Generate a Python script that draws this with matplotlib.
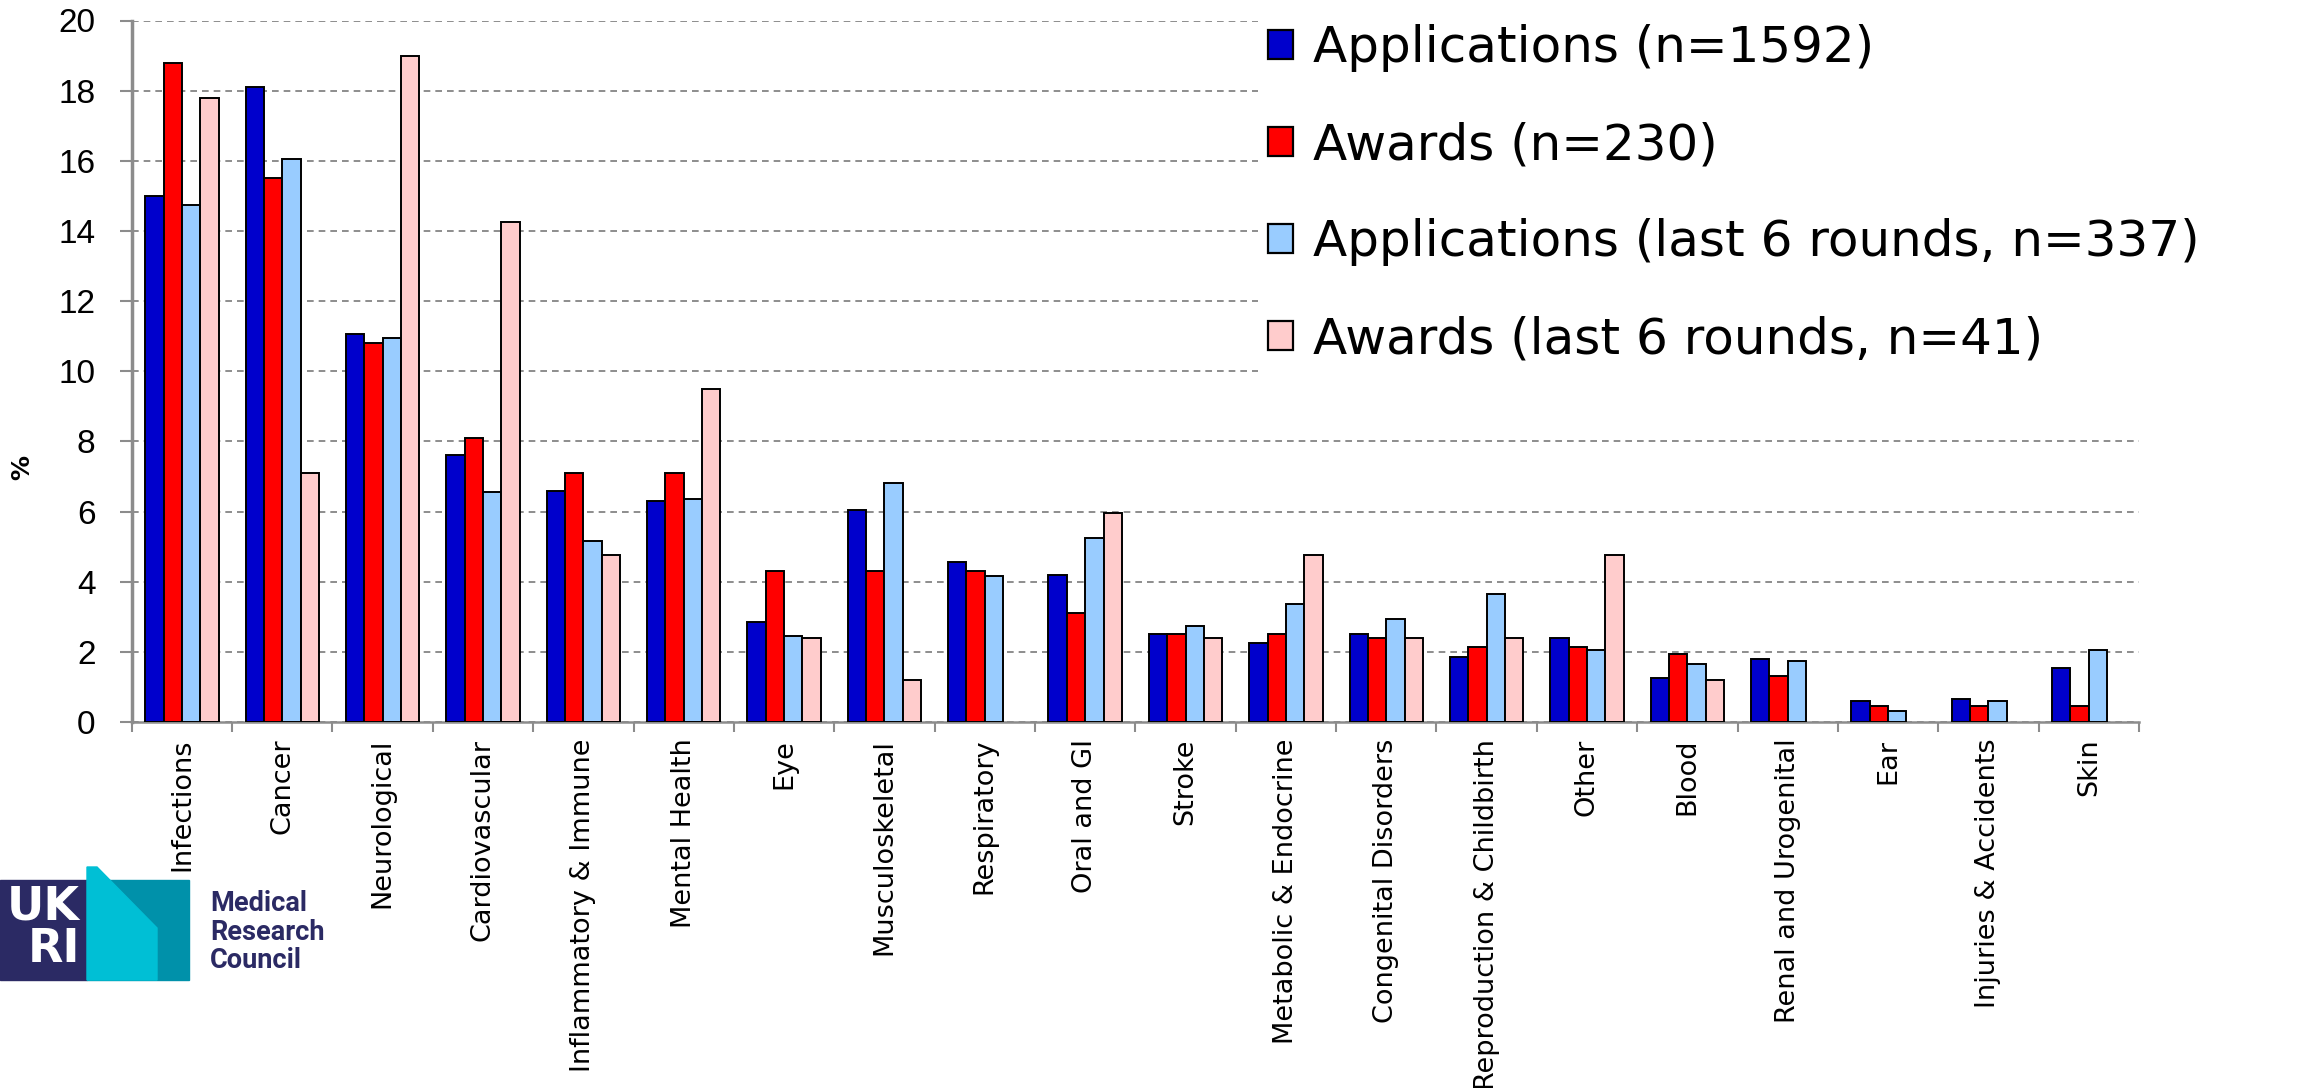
import numpy as np
import matplotlib
matplotlib.use("Agg")
import matplotlib.pyplot as plt
from matplotlib.patches import Patch, Polygon, Rectangle

# Share of applications and awards by health category (%)
categories = ['Infections', 'Cancer', 'Neurological', 'Cardiovascular',
              'Inflammatory & Immune', 'Mental Health', 'Eye', 'Musculoskeletal',
              'Respiratory', 'Oral and GI', 'Stroke', 'Metabolic & Endocrine',
              'Congenital Disorders', 'Reproduction & Childbirth', 'Other', 'Blood',
              'Renal and Urogenital', 'Ear', 'Injuries & Accidents', 'Skin']

applications = [15.0, 18.1, 11.05, 7.6, 6.6, 6.3, 2.85, 6.05, 4.55, 4.2,
                2.5, 2.25, 2.5, 1.85, 2.4, 1.25, 1.8, 0.6, 0.65, 1.55]
awards = [18.8, 15.5, 10.8, 8.1, 7.1, 7.1, 4.3, 4.3, 4.3, 3.1,
          2.5, 2.5, 2.4, 2.15, 2.15, 1.95, 1.3, 0.45, 0.45, 0.45]
applications_last6 = [14.75, 16.05, 10.95, 6.55, 5.15, 6.35, 2.45, 6.8, 4.15, 5.25,
                      2.75, 3.35, 2.95, 3.65, 2.05, 1.65, 1.75, 0.3, 0.6, 2.05]
awards_last6 = [17.8, 7.1, 19.0, 14.25, 4.75, 9.5, 2.4, 1.2, 0, 5.95,
                2.4, 4.75, 2.4, 2.4, 4.75, 1.2, 0, 0, 0, 0]

series_labels = ['Applications (n=1592)', 'Awards (n=230)',
                 'Applications (last 6 rounds, n=337)', 'Awards (last 6 rounds, n=41)']
colores = ['#0000CC', '#FF0000', '#99CCFF', '#FFCCCC']

W, H = 2310, 1088
fig = plt.figure(figsize=(W / 100, H / 100), dpi=100)
ax = fig.add_axes([131.7 / W, 1 - 722 / H, (2139 - 131.7) / W, (722 - 20.5) / H])

x = np.arange(len(categories))
ancho = 0.183
series = [applications, awards, applications_last6, awards_last6]
for i, (vals, col) in enumerate(zip(series, colores)):
    vals = np.array(vals, dtype=float)
    m = vals > 0
    ax.bar(x[m] + (i - 1.5) * ancho, vals[m], width=ancho, color=col,
           edgecolor='black', linewidth=1.4, zorder=3)

ax.set_xlim(-0.5, len(categories) - 0.5)
ax.set_ylim(0, 20)
ax.set_yticks(range(0, 21, 2))
ax.set_yticklabels([str(v) for v in range(0, 21, 2)], fontsize=24,
                   family='Liberation Sans')
ax.set_xticks(x)
ax.set_xticklabels(categories, rotation=90, fontsize=19.5, va='top')
ax.set_xticks(np.arange(-0.5, len(categories)), minor=True)
ax.tick_params(axis='x', which='major', length=0, pad=12)
ax.tick_params(axis='x', which='minor', length=7, width=1.5, color='#8c8c8c', direction='out')
ax.tick_params(axis='y', length=9, width=1.5, color='#8c8c8c', pad=17)

for s in ['top', 'right']:
    ax.spines[s].set_visible(False)
ax.spines['left'].set_color('#8c8c8c')
ax.spines['left'].set_linewidth(2.5)
ax.spines['bottom'].set_color('#8c8c8c')
ax.spines['bottom'].set_linewidth(1.8)

ax.yaxis.grid(True, linestyle=(0, (4, 3)), color='#7a7a7a', linewidth=1.2)
ax.set_axisbelow(True)

fig.text(22 / W, 1 - 468 / H, '%', rotation=90, fontsize=18, fontweight='bold',
         ha='center', va='center')

# white block behind the legend, hiding the upper gridlines on the right
fig.add_artist(Rectangle((1258 / W, 1 - 400 / H), 1 - 1258 / W, 400 / H,
                         facecolor='white', edgecolor='none',
                         transform=fig.transFigure, zorder=5))

handles = [Patch(facecolor=c, edgecolor='black', linewidth=1.6) for c in colores]
leg = fig.legend(handles, series_labels, loc='upper left',
                 bbox_to_anchor=(1268 / W, 1 - 24 / H), fontsize=36,
                 frameon=False, handlelength=0.5, handleheight=0.5,
                 handletextpad=0.4, labelspacing=0.98, borderpad=0.0,
                 borderaxespad=0.0)
leg.set_zorder(10)

# logo in the bottom-left corner (pixel coords -> figure fraction)
def fx(px):
    return px / W

def fy(py):
    return 1 - py / H

navy = '#2B2A64'
fig.add_artist(Rectangle((fx(0), fy(980)), fx(87), 100 / H, color=navy,
                         transform=fig.transFigure))
fig.add_artist(Rectangle((fx(87), fy(980)), fx(102), 100 / H, color='#0091AA',
                         transform=fig.transFigure))
fig.add_artist(Polygon([(fx(87), fy(867)), (fx(97), fy(867)), (fx(157), fy(928)),
                        (fx(157), fy(980)), (fx(87), fy(980))], closed=True,
                       color='#00BFD5', transform=fig.transFigure))
fig.text(fx(80), fy(907), 'UK', color='white', fontsize=33, fontweight='heavy',
         ha='right', va='center')
fig.text(fx(80), fy(949), 'RI', color='white', fontsize=33, fontweight='heavy',
         ha='right', va='center')
for txt, yb in zip(['Medical', 'Research', 'Council'], [911, 940, 968]):
    fig.text(fx(210), fy(yb), txt, color=navy, fontsize=19.5, fontweight='bold',
             family='Roboto', ha='left', va='baseline')

fig.savefig('out.png', dpi=100, facecolor='white')
